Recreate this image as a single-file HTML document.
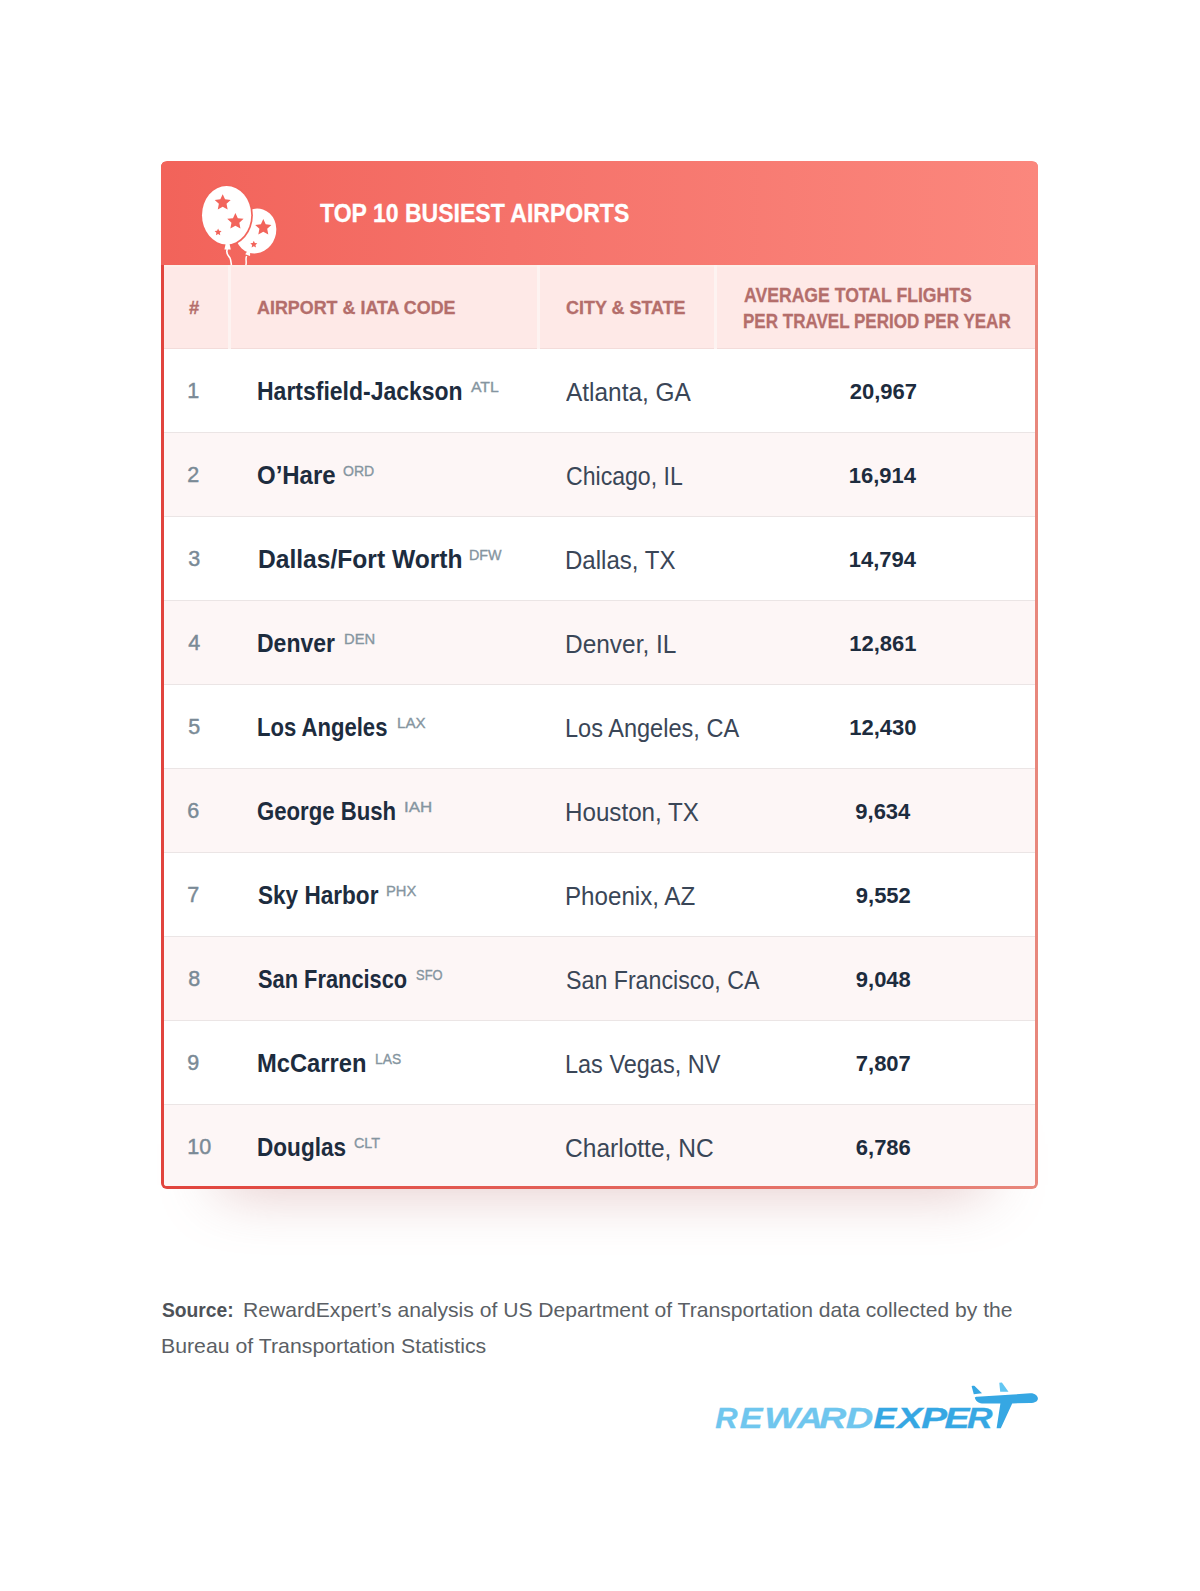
<!DOCTYPE html>
<html><head><meta charset="utf-8"><style>
*{margin:0;padding:0;box-sizing:border-box}
html,body{width:1200px;height:1591px;background:#fff;overflow:hidden}
body{position:relative;font-family:"Liberation Sans",sans-serif}
.t{position:absolute;line-height:1;white-space:nowrap;transform-origin:0 0}
.shadow{position:absolute;left:220px;top:1140px;width:765px;height:49px;background:#fff;box-shadow:0 0 60px rgba(190,120,120,0.47)}
.card{position:absolute;left:161px;top:161px;width:877px;height:1028px;border-radius:6px;background:linear-gradient(90deg,#e1443d 0%,#e3625a 50%,#e8877c 100%);padding:0 3px 3px 3px}
.inner{position:relative;width:100%;height:100%;border-radius:0 0 3px 3px;overflow:hidden;background:#fff}
.head{position:absolute;left:161px;top:161px;width:877px;height:104px;border-radius:6px 6px 0 0;background:linear-gradient(90deg,#f2635a 0%,#f5726a 40%,#fb877d 100%)}
.hrow{position:absolute;left:0;top:104px;width:100%;height:84px;background:#fee9e7;border-top:2px solid #fdefe9;border-bottom:1px solid #f3dcda}
.sep{position:absolute;top:104px;height:84px;width:3px;background:#fdf3f1}
.row{position:absolute;left:0;width:100%;height:84px;border-bottom:1px solid #ebe5e5}
.row.alt{background:#fdf6f6}
</style></head><body>
<div class="shadow"></div>
<div class="card"><div class="inner">
<div class="hrow"></div>
<div class="sep" style="left:64px"></div>
<div class="sep" style="left:373px"></div>
<div class="sep" style="left:550px"></div>
<div class="row" style="top:188px"></div>
<div class="row alt" style="top:272px"></div>
<div class="row" style="top:356px"></div>
<div class="row alt" style="top:440px"></div>
<div class="row" style="top:524px"></div>
<div class="row alt" style="top:608px"></div>
<div class="row" style="top:692px"></div>
<div class="row alt" style="top:776px"></div>
<div class="row" style="top:860px"></div>
<div class="row alt" style="top:944px"></div>
</div></div>
<div class="head"></div>
<svg style="position:absolute;left:190px;top:175px" width="100" height="90" viewBox="190 175 100 90">
<g transform="rotate(18.6 255.75 231)"><ellipse cx="255.75" cy="231" rx="20.3" ry="22.7" fill="#fff"/>
<path d="M254.2 253 L257.3 253 L258.3 256.5 L253.2 256.5Z" fill="#fff"/></g>
<path d="M246.6 256 C245 259 247.2 262 245.6 266" stroke="#fff" stroke-width="1.5" fill="none"/>
<ellipse cx="226.6" cy="215.2" rx="26.3" ry="30.8" fill="#f2645b"/>
<ellipse cx="226.6" cy="215.2" rx="24.6" ry="29.2" fill="#fff"/>
<path d="M225.6 244 L229.6 244 L230.8 249.5 L224.4 249.5Z" fill="#fff"/>
<path d="M227.5 249 C225 253 229 256 230 258 C231 260 231 262 231.5 266" stroke="#fff" stroke-width="1.6" fill="none"/>
<path d="M222.70,194.20 L225.07,199.34 L230.69,200.00 L226.53,203.85 L227.64,209.40 L222.70,206.63 L217.76,209.40 L218.87,203.85 L214.71,200.00 L220.33,199.34Z M235.40,212.90 L237.83,218.16 L243.58,218.84 L239.33,222.78 L240.45,228.46 L235.40,225.63 L230.35,228.46 L231.47,222.78 L227.22,218.84 L232.97,218.16Z M218.10,228.50 L219.14,230.76 L221.62,231.06 L219.79,232.75 L220.27,235.19 L218.10,233.98 L215.93,235.19 L216.41,232.75 L214.58,231.06 L217.06,230.76Z M263.30,219.10 L265.70,224.30 L271.38,224.97 L267.18,228.86 L268.30,234.48 L263.30,231.68 L258.30,234.48 L259.42,228.86 L255.22,224.97 L260.90,224.30Z M253.80,240.70 L254.84,242.96 L257.32,243.26 L255.49,244.95 L255.97,247.39 L253.80,246.18 L251.63,247.39 L252.11,244.95 L250.28,243.26 L252.76,242.96Z" fill="#f2645b"/>
</svg>
<div class="t" style="left:320.30px;top:201.10px;font-size:25.4px;color:#fff;font-weight:700;transform:scaleX(0.9070);-webkit-text-stroke:0.3px #fff;">TOP 10 BUSIEST AIRPORTS</div>
<div class="t" style="left:188.50px;top:299.39px;font-size:18.8px;color:#b46e6b;font-weight:700;transform:scaleX(0.9818);-webkit-text-stroke:0.3px #b46e6b;">#</div>
<div class="t" style="left:257.30px;top:299.39px;font-size:18.8px;color:#b46e6b;font-weight:700;transform:scaleX(0.9530);-webkit-text-stroke:0.3px #b46e6b;">AIRPORT &amp; IATA CODE</div>
<div class="t" style="left:566.00px;top:299.39px;font-size:18.8px;color:#b46e6b;font-weight:700;transform:scaleX(0.9550);-webkit-text-stroke:0.3px #b46e6b;">CITY &amp; STATE</div>
<div class="t" style="left:743.80px;top:285.66px;font-size:19.3px;color:#b46e6b;font-weight:700;transform:scaleX(0.9138);-webkit-text-stroke:0.3px #b46e6b;">AVERAGE TOTAL FLIGHTS</div>
<div class="t" style="left:742.92px;top:311.66px;font-size:19.3px;color:#b46e6b;font-weight:700;transform:scaleX(0.8829);-webkit-text-stroke:0.3px #b46e6b;">PER TRAVEL PERIOD PER YEAR</div>
<div class="t" style="left:187.30px;top:381.10px;font-size:21.5px;color:#7a8a96;font-weight:400;-webkit-text-stroke:0.45px #7a8a96;">1</div>
<div class="t" style="left:257.10px;top:378.72px;font-size:25.5px;color:#1d2c3e;font-weight:700;transform:scaleX(0.9012);">Hartsfield-Jackson</div>
<div class="t" style="left:470.70px;top:379.05px;font-size:15.3px;color:#8595a0;font-weight:400;transform:scaleX(1.0336);-webkit-text-stroke:0.35px #8595a0;">ATL</div>
<div class="t" style="left:566.40px;top:378.59px;font-size:26.0px;color:#3a4657;font-weight:400;transform:scaleX(0.9393);">Atlanta, GA</div>
<div class="t" style="left:849.67px;top:380.58px;font-size:22.0px;color:#1d2c3e;font-weight:700;">20,967</div>
<div class="t" style="left:187.30px;top:465.10px;font-size:21.5px;color:#7a8a96;font-weight:400;-webkit-text-stroke:0.45px #7a8a96;">2</div>
<div class="t" style="left:256.56px;top:462.72px;font-size:25.5px;color:#1d2c3e;font-weight:700;transform:scaleX(0.9401);">O&#8217;Hare</div>
<div class="t" style="left:343.00px;top:463.05px;font-size:15.3px;color:#8595a0;font-weight:400;transform:scaleX(0.9191);-webkit-text-stroke:0.35px #8595a0;">ORD</div>
<div class="t" style="left:565.51px;top:462.59px;font-size:26.0px;color:#3a4657;font-weight:400;transform:scaleX(0.8880);">Chicago, IL</div>
<div class="t" style="left:848.67px;top:464.58px;font-size:22.0px;color:#1d2c3e;font-weight:700;">16,914</div>
<div class="t" style="left:188.30px;top:549.10px;font-size:21.5px;color:#7a8a96;font-weight:400;-webkit-text-stroke:0.45px #7a8a96;">3</div>
<div class="t" style="left:257.64px;top:546.72px;font-size:25.5px;color:#1d2c3e;font-weight:700;transform:scaleX(0.9644);">Dallas/Fort Worth</div>
<div class="t" style="left:468.66px;top:547.05px;font-size:15.3px;color:#8595a0;font-weight:400;transform:scaleX(0.9363);-webkit-text-stroke:0.35px #8595a0;">DFW</div>
<div class="t" style="left:564.55px;top:546.59px;font-size:26.0px;color:#3a4657;font-weight:400;transform:scaleX(0.9245);">Dallas, TX</div>
<div class="t" style="left:848.67px;top:548.58px;font-size:22.0px;color:#1d2c3e;font-weight:700;">14,794</div>
<div class="t" style="left:188.30px;top:633.10px;font-size:21.5px;color:#7a8a96;font-weight:400;-webkit-text-stroke:0.45px #7a8a96;">4</div>
<div class="t" style="left:257.30px;top:630.72px;font-size:25.5px;color:#1d2c3e;font-weight:700;transform:scaleX(0.9014);">Denver</div>
<div class="t" style="left:343.83px;top:631.05px;font-size:15.3px;color:#8595a0;font-weight:400;transform:scaleX(0.9653);-webkit-text-stroke:0.35px #8595a0;">DEN</div>
<div class="t" style="left:564.52px;top:630.59px;font-size:26.0px;color:#3a4657;font-weight:400;transform:scaleX(0.9401);">Denver, IL</div>
<div class="t" style="left:849.17px;top:632.58px;font-size:22.0px;color:#1d2c3e;font-weight:700;">12,861</div>
<div class="t" style="left:188.30px;top:717.10px;font-size:21.5px;color:#7a8a96;font-weight:400;-webkit-text-stroke:0.45px #7a8a96;">5</div>
<div class="t" style="left:257.13px;top:714.72px;font-size:25.5px;color:#1d2c3e;font-weight:700;transform:scaleX(0.8655);">Los Angeles</div>
<div class="t" style="left:397.01px;top:715.05px;font-size:15.3px;color:#8595a0;font-weight:400;transform:scaleX(0.9888);-webkit-text-stroke:0.35px #8595a0;">LAX</div>
<div class="t" style="left:564.59px;top:714.59px;font-size:26.0px;color:#3a4657;font-weight:400;transform:scaleX(0.9058);">Los Angeles, CA</div>
<div class="t" style="left:849.17px;top:716.58px;font-size:22.0px;color:#1d2c3e;font-weight:700;">12,430</div>
<div class="t" style="left:187.30px;top:801.10px;font-size:21.5px;color:#7a8a96;font-weight:400;-webkit-text-stroke:0.45px #7a8a96;">6</div>
<div class="t" style="left:257.13px;top:798.72px;font-size:25.5px;color:#1d2c3e;font-weight:700;transform:scaleX(0.8690);">George Bush</div>
<div class="t" style="left:403.50px;top:799.05px;font-size:15.3px;color:#8595a0;font-weight:400;transform:scaleX(1.1043);-webkit-text-stroke:0.35px #8595a0;">IAH</div>
<div class="t" style="left:564.54px;top:798.59px;font-size:26.0px;color:#3a4657;font-weight:400;transform:scaleX(0.9299);">Houston, TX</div>
<div class="t" style="left:855.29px;top:800.58px;font-size:22.0px;color:#1d2c3e;font-weight:700;">9,634</div>
<div class="t" style="left:187.30px;top:885.10px;font-size:21.5px;color:#7a8a96;font-weight:400;-webkit-text-stroke:0.45px #7a8a96;">7</div>
<div class="t" style="left:258.00px;top:882.72px;font-size:25.5px;color:#1d2c3e;font-weight:700;transform:scaleX(0.8852);">Sky Harbor</div>
<div class="t" style="left:385.73px;top:883.05px;font-size:15.3px;color:#8595a0;font-weight:400;transform:scaleX(0.9653);-webkit-text-stroke:0.35px #8595a0;">PHX</div>
<div class="t" style="left:564.54px;top:882.59px;font-size:26.0px;color:#3a4657;font-weight:400;transform:scaleX(0.9288);">Phoenix, AZ</div>
<div class="t" style="left:855.79px;top:884.58px;font-size:22.0px;color:#1d2c3e;font-weight:700;">9,552</div>
<div class="t" style="left:188.30px;top:969.10px;font-size:21.5px;color:#7a8a96;font-weight:400;-webkit-text-stroke:0.45px #7a8a96;">8</div>
<div class="t" style="left:258.00px;top:966.72px;font-size:25.5px;color:#1d2c3e;font-weight:700;transform:scaleX(0.8559);">San Francisco</div>
<div class="t" style="left:415.80px;top:967.05px;font-size:15.3px;color:#8595a0;font-weight:400;transform:scaleX(0.8464);-webkit-text-stroke:0.35px #8595a0;">SFO</div>
<div class="t" style="left:565.51px;top:966.59px;font-size:26.0px;color:#3a4657;font-weight:400;transform:scaleX(0.8923);">San Francisco, CA</div>
<div class="t" style="left:855.79px;top:968.58px;font-size:22.0px;color:#1d2c3e;font-weight:700;">9,048</div>
<div class="t" style="left:187.30px;top:1053.10px;font-size:21.5px;color:#7a8a96;font-weight:400;-webkit-text-stroke:0.45px #7a8a96;">9</div>
<div class="t" style="left:257.07px;top:1050.72px;font-size:25.5px;color:#1d2c3e;font-weight:700;transform:scaleX(0.9300);">McCarren</div>
<div class="t" style="left:374.90px;top:1051.05px;font-size:15.3px;color:#8595a0;font-weight:400;transform:scaleX(0.9022);-webkit-text-stroke:0.35px #8595a0;">LAS</div>
<div class="t" style="left:564.59px;top:1050.59px;font-size:26.0px;color:#3a4657;font-weight:400;transform:scaleX(0.9030);">Las Vegas, NV</div>
<div class="t" style="left:855.79px;top:1052.58px;font-size:22.0px;color:#1d2c3e;font-weight:700;">7,807</div>
<div class="t" style="left:187.30px;top:1137.10px;font-size:21.5px;color:#7a8a96;font-weight:400;-webkit-text-stroke:0.45px #7a8a96;">10</div>
<div class="t" style="left:257.11px;top:1134.72px;font-size:25.5px;color:#1d2c3e;font-weight:700;transform:scaleX(0.8852);">Douglas</div>
<div class="t" style="left:354.30px;top:1135.05px;font-size:15.3px;color:#8595a0;font-weight:400;transform:scaleX(0.9373);-webkit-text-stroke:0.35px #8595a0;">CLT</div>
<div class="t" style="left:565.46px;top:1134.59px;font-size:26.0px;color:#3a4657;font-weight:400;transform:scaleX(0.9440);">Charlotte, NC</div>
<div class="t" style="left:855.79px;top:1136.58px;font-size:22.0px;color:#1d2c3e;font-weight:700;">6,786</div>
<div class="t" style="left:162.30px;top:1300.32px;font-size:20.3px;color:#4e5258;font-weight:700;transform:scaleX(0.9491);">Source:</div>
<div class="t" style="left:243.46px;top:1300.32px;font-size:20.3px;color:#5b5f65;font-weight:400;transform:scaleX(1.0411);">RewardExpert&#8217;s analysis of US Department of Transportation data collected by the</div>
<div class="t" style="left:161.25px;top:1336.12px;font-size:20.3px;color:#5b5f65;font-weight:400;transform:scaleX(1.0490);">Bureau of Transportation Statistics</div>
<svg style="position:absolute;left:700px;top:1375px" width="345" height="60" viewBox="700 1375 345 60"><g font-family="Liberation Sans" font-weight="700" font-style="italic" font-size="29.6" stroke-width="0.3"><text transform="translate(715.19,1428.4) scale(1.045,1)" fill="#6fc6ee" stroke="#6fc6ee">R</text><text transform="translate(739.64,1428.4) scale(1.155,1)" fill="#6fc6ee" stroke="#6fc6ee">E</text><text transform="translate(764.18,1428.4) scale(1.275,1)" fill="#6fc6ee" stroke="#6fc6ee">W</text><text transform="translate(797.29,1428.4) scale(1.187,1)" fill="#6fc6ee" stroke="#6fc6ee">A</text><text transform="translate(818.98,1428.4) scale(1.277,1)" fill="#6fc6ee" stroke="#6fc6ee">R</text><text transform="translate(845.87,1428.4) scale(1.289,1)" fill="#6fc6ee" stroke="#6fc6ee">D</text><text transform="translate(873.44,1428.4) scale(1.160,1)" fill="#36a7e3" stroke="#36a7e3">E</text><text transform="translate(897.23,1428.4) scale(1.270,1)" fill="#36a7e3" stroke="#36a7e3">X</text><text transform="translate(921.26,1428.4) scale(1.310,1)" fill="#36a7e3" stroke="#36a7e3">P</text><text transform="translate(944.39,1428.4) scale(1.265,1)" fill="#36a7e3" stroke="#36a7e3">E</text><text transform="translate(967.02,1428.4) scale(1.195,1)" fill="#36a7e3" stroke="#36a7e3">R</text></g><path fill="#36a7e3" d="M974.8,1397.6 C975.3,1396.9 976,1396.8 977,1396.7 L1013,1394.5 L1030,1393.3 C1035,1393.1 1037.9,1396 1037.9,1398.5 C1037.9,1401.2 1035,1403.1 1030,1403.1 L1012.2,1403.4 L1000.8,1428.3 L996.6,1428.3 L1000.4,1403.5 L982,1403.4 C978,1403.3 975.5,1400.8 974.8,1397.6Z"/><path fill="#36a7e3" d="M971.6,1386.3 C972.3,1385.8 973.6,1385.7 974.6,1385.9 L982,1393.2 L973.8,1394.2Z"/><path fill="#62c6f2" d="M999.3,1382.7 L1001.9,1382.6 L1008.5,1391.7 L1000.2,1391.7Z"/></svg>
</body></html>
